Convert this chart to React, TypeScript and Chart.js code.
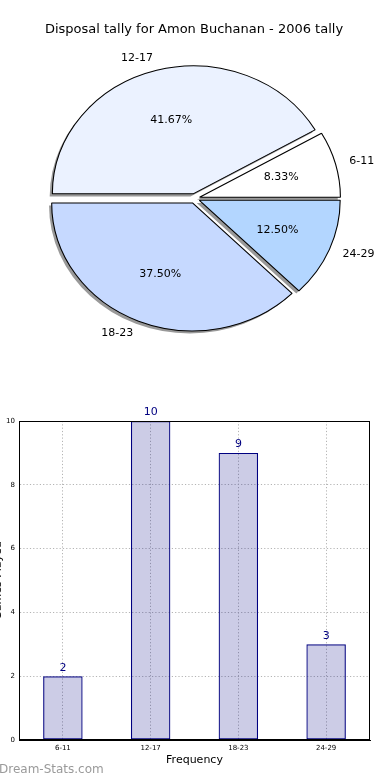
import React, { useEffect, useRef } from "react";
import { Chart, registerables } from "chart.js";

Chart.register(...registerables);

const FONT = "'DejaVu Sans', sans-serif";

const chartTitle = "Disposal tally for Amon Buchanan - 2006 tally";
const categories = ["6-11", "12-17", "18-23", "24-29"];
const counts = [2, 10, 9, 3];
const pieColors = ["#ffffff", "#ebf2ff", "#c6d9ff", "#b3d6ff"];
const yTicks = [0, 2, 4, 6, 8, 10];
const xAxisTitle = "Frequency";
const yAxisTitle = "Games Played";
const watermark = "Dream-Stats.com";

const SX = 1.1; // horizontal stretch of the pie (ellipse)
const EXPLODE = 4.8;
const PIE_R = 128;

const total = counts.reduce((a, b) => a + b, 0);

const piePlugin = {
  id: "pieStyle",
  afterDatasetsUpdate(chart: any) {
    const meta = chart.getDatasetMeta(0);
    meta.data.forEach((el: any) => {
      const mid = (el.startAngle + el.endAngle) / 2;
      el.x += Math.cos(mid) * EXPLODE;
      el.y += Math.sin(mid) * EXPLODE;
    });
  },
  beforeDatasetsDraw(chart: any) {
    const { ctx, chartArea } = chart;
    const cx = (chartArea.left + chartArea.right) / 2;
    const cy = (chartArea.top + chartArea.bottom) / 2;
    ctx.save();
    ctx.translate(cx, cy);
    ctx.scale(SX, 1);
    ctx.translate(-cx, -cy);
    const meta = chart.getDatasetMeta(0);
    ctx.save();
    ctx.translate(-2.4, 2.6);
    ctx.fillStyle = "#999999";
    meta.data.forEach((el: any) => {
      ctx.beginPath();
      ctx.moveTo(el.x, el.y);
      ctx.arc(el.x, el.y, el.outerRadius, el.startAngle, el.endAngle);
      ctx.closePath();
      ctx.fill();
    });
    ctx.restore();
  },
  afterDatasetsDraw(chart: any) {
    const { ctx, chartArea } = chart;
    ctx.restore();
    const cx = (chartArea.left + chartArea.right) / 2;
    const meta = chart.getDatasetMeta(0);
    const labels = chart.data.labels;
    const values = chart.data.datasets[0].data;
    ctx.save();
    ctx.fillStyle = "#000";
    ctx.font = `11px ${FONT}`;
    ctx.textBaseline = "middle";
    meta.data.forEach((el: any, i: number) => {
      const mid = (el.startAngle + el.endAngle) / 2;
      const ex = cx + (el.x - cx) * SX;
      const ey = el.y;
      const r = el.outerRadius;
      const pct = ((values[i] / total) * 100).toFixed(2) + "%";
      ctx.textAlign = "center";
      ctx.fillText(pct, ex + Math.cos(mid) * r * 0.6 * SX, ey + Math.sin(mid) * r * 0.6);
      ctx.textAlign = Math.cos(mid) > 0 ? "left" : "right";
      ctx.fillText(labels[i], ex + Math.cos(mid) * r * 1.1 * SX, ey + Math.sin(mid) * r * 1.1);
    });
    ctx.font = `13px ${FONT}`;
    ctx.textAlign = "center";
    ctx.fillText(chartTitle, 194, 30);
    ctx.restore();
  },
};

const barPlugin = {
  id: "barStyle",
  afterDatasetsDraw(chart: any) {
    const { ctx, chartArea } = chart;
    ctx.save();
    ctx.strokeStyle = "#000";
    ctx.lineWidth = 1;
    ctx.strokeRect(
      Math.round(chartArea.left) + 0.5,
      Math.round(chartArea.top) + 0.5,
      Math.round(chartArea.right - chartArea.left) - 1,
      Math.round(chartArea.bottom - chartArea.top) - 1
    );
    const meta = chart.getDatasetMeta(0);
    const values = chart.data.datasets[0].data;
    ctx.fillStyle = "#000080";
    ctx.font = `11px ${FONT}`;
    ctx.textAlign = "center";
    ctx.textBaseline = "bottom";
    meta.data.forEach((el: any, i: number) => {
      ctx.fillText(String(values[i]), el.x, el.y - 3);
    });
    // y-axis title, mostly outside the picture
    ctx.save();
    ctx.translate(1, (chartArea.top + chartArea.bottom) / 2);
    ctx.rotate(-Math.PI / 2);
    ctx.fillStyle = "#000";
    ctx.font = `11px ${FONT}`;
    ctx.textAlign = "center";
    ctx.textBaseline = "alphabetic";
    ctx.fillText(yAxisTitle, 0, 0);
    ctx.restore();
    // watermark
    ctx.fillStyle = "#9a9a9a";
    ctx.font = `12px ${FONT}`;
    ctx.textAlign = "left";
    ctx.textBaseline = "middle";
    ctx.fillText(watermark, -1, 370);
    ctx.restore();
  },
};

export default function App() {
  const pieRef = useRef<HTMLCanvasElement>(null);
  const barRef = useRef<HTMLCanvasElement>(null);

  useEffect(() => {
    const pieLabels = [...categories].reverse();
    const pieData = [...counts].reverse();
    const pieBg = [...pieColors].reverse();
    const pie = new Chart(pieRef.current!, {
      type: "pie",
      data: {
        labels: pieLabels,
        datasets: [
          {
            data: pieData,
            backgroundColor: pieBg,
            borderColor: "#000",
            borderWidth: 1,
          },
        ],
      },
      options: {
        animation: false,
        responsive: false,
        rotation: 90,
        radius: PIE_R,
        layout: { padding: { left: 0, right: 1, top: 0, bottom: 3 } },
        plugins: { legend: { display: false }, tooltip: { enabled: false }, title: { display: false } },
        events: [],
      } as any,
      plugins: [piePlugin],
    });

    const tickFont = { size: 7, family: FONT };
    const gridColor = "#b4b4b4";
    const bar = new Chart(barRef.current!, {
      type: "bar",
      data: {
        labels: categories,
        datasets: [
          {
            data: counts,
            backgroundColor: "rgba(0,0,128,0.2)",
            borderColor: "#000080",
            borderWidth: 1.2,
            borderSkipped: false,
            barPercentage: 0.45,
            categoryPercentage: 1,
          },
        ],
      },
      options: {
        animation: false,
        responsive: false,
        layout: { padding: { left: 0, right: 20, top: 21, bottom: 0 } },
        plugins: { legend: { display: false }, tooltip: { enabled: false } },
        events: [],
        scales: {
          x: {
            grid: { offset: false, color: gridColor, lineWidth: 1, drawTicks: false },
            border: { display: true, color: "#000", dash: [1.2, 2.1] },
            ticks: { font: tickFont, color: "#000", padding: 4 },
            title: {
              display: true,
              text: xAxisTitle,
              color: "#000",
              font: { size: 11, family: FONT },
              padding: { top: 0, bottom: 13 },
            },
            afterFit(s: any) {
              s.height = 40;
            },
          },
          y: {
            min: 0,
            max: 10,
            afterBuildTicks(s: any) {
              s.ticks = yTicks.map((v) => ({ value: v }));
            },
            grid: { color: gridColor, lineWidth: 1, drawTicks: false },
            border: { display: true, color: "#000", dash: [1.2, 2.1] },
            ticks: { font: tickFont, color: "#000", padding: 4 },
            afterFit(s: any) {
              s.width = 19;
            },
          },
        },
      } as any,
      plugins: [barPlugin],
    });

    return () => {
      pie.destroy();
      bar.destroy();
    };
  }, []);

  return (
    <div style={{ position: "absolute", left: 0, top: 0, width: 390, height: 780, background: "#fff" }}>
      <canvas ref={pieRef} width={390} height={400} style={{ position: "absolute", left: 0, top: 0, width: 390, height: 400 }} />
      <canvas ref={barRef} width={390} height={380} style={{ position: "absolute", left: 0, top: 400, width: 390, height: 380 }} />
    </div>
  );
}
